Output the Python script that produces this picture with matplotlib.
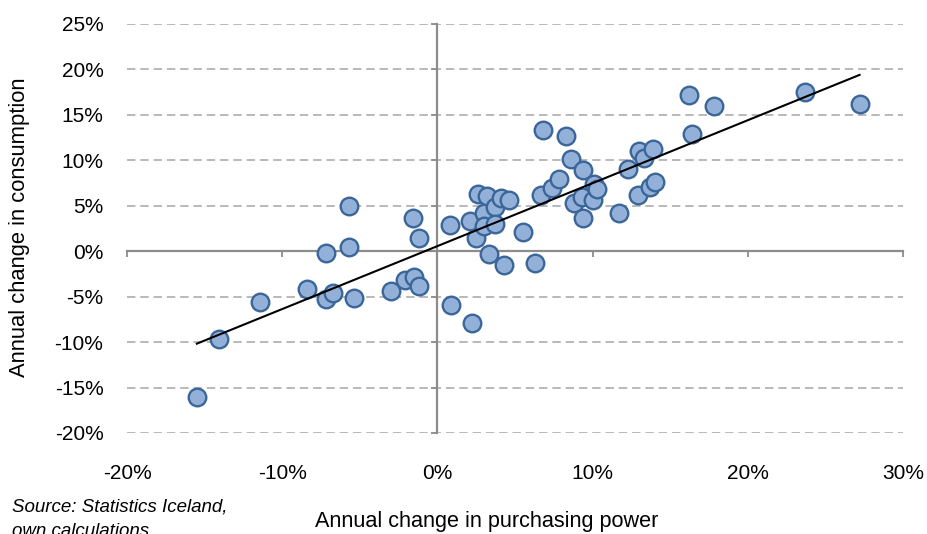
import numpy as np
import matplotlib
matplotlib.use("Agg")
import matplotlib.pyplot as plt
from matplotlib.ticker import PercentFormatter

# Annual change in purchasing power (%)
purchasing_power = [-15.5, -14.1, -11.4, -8.4, -7.2, -7.2, -6.7, -5.7, -5.7, -5.4,
                    -3.0, -2.1, -1.5, -1.6, -1.2, -1.2, 0.8, 0.9, 2.2, 2.1,
                    2.5, 2.6, 3.0, 3.0, 3.3, 3.2, 3.7, 3.7, 4.1, 4.6,
                    4.3, 5.5, 6.3, 6.65, 6.8, 7.4, 7.85, 8.3, 8.6, 8.8,
                    9.4, 9.4, 9.3, 10.0, 10.1, 10.3, 11.7, 12.3, 12.9, 13.0,
                    13.3, 13.9, 13.7, 14.0, 16.2, 16.4, 17.8, 23.7, 27.2]
# Annual change in consumption (%)
consumption = [-16.0, -9.7, -5.6, -4.2, -0.2, -5.3, -4.6, 5.0, 0.5, -5.1,
               -4.4, -3.2, -2.8, 3.7, 1.5, -3.8, 2.9, -5.9, -7.9, 3.3,
               1.4, 6.3, 4.2, 2.75, -0.3, 6.1, 4.9, 3.0, 5.9, 5.6,
               -1.5, 2.1, -1.3, 6.2, 13.3, 7.0, 7.9, 12.7, 10.2, 5.3,
               8.9, 3.7, 6.0, 5.6, 7.4, 6.9, 4.2, 9.0, 6.2, 11.0,
               10.3, 11.3, 7.1, 7.6, 17.2, 12.9, 16.0, 17.5, 16.2]

x_ticks = [-20, -10, 0, 10, 20, 30]
y_ticks = [-20, -15, -10, -5, 0, 5, 10, 15, 20, 25]

x_label = "Annual change in purchasing power"
y_label = "Annual change in consumption"
source_lines = ["Source: Statistics Iceland,", "own calculations"]

plt.rcParams['font.family'] = ['Liberation Sans', 'DejaVu Sans']
plt.rcParams['axes.unicode_minus'] = False

W, H = 927, 534
fig = plt.figure(figsize=(W / 100, H / 100), dpi=100)
ax = fig.add_axes([127 / W, 1 - 433 / H, (903 - 127) / W, (433 - 24) / H])

xmin, xmax = x_ticks[0], x_ticks[-1]
ymin, ymax = y_ticks[0], y_ticks[-1]
ax.set_xlim(xmin, xmax)
ax.set_ylim(ymin, ymax)
ax.set_xticks(x_ticks)
ax.set_yticks(y_ticks)
ax.xaxis.set_major_formatter(PercentFormatter(decimals=0))
ax.yaxis.set_major_formatter(PercentFormatter(decimals=0))
for s in ax.spines.values():
    s.set_visible(False)
ax.tick_params(length=0, labelsize=15, labelcolor='black')
ax.tick_params(axis='y', pad=17)
ax.tick_params(axis='x', pad=22)
ax.grid(axis='y', color='#A6A6A6', linestyle=(0, (5.5, 3.2)), linewidth=1.1)
ax.grid(axis='x', visible=False)

axis_color = '#8C8C8C'
# vertical axis through x = 0
sec_y = ax.secondary_yaxis((0 - xmin) / (xmax - xmin))
sec_y.set_yticks(y_ticks)
sec_y.tick_params(labelleft=False, direction='out', length=4.5, width=1.3, color=axis_color)
sec_y.spines['left'].set_color(axis_color)
sec_y.spines['left'].set_linewidth(1.6)
sec_y.set_zorder(2)
# horizontal axis through y = 0
sec_x = ax.secondary_xaxis((0 - ymin) / (ymax - ymin))
sec_x.set_xticks(x_ticks)
sec_x.tick_params(labelbottom=False, direction='out', length=4.5, width=1.3, color=axis_color)
sec_x.spines['bottom'].set_color(axis_color)
sec_x.spines['bottom'].set_linewidth(1.6)
sec_x.set_zorder(2)

ax.scatter(purchasing_power, consumption, s=160, facecolor='#93B1D8',
           edgecolor='#3B6699', linewidth=1.7, zorder=3)

# linear trendline across the data range
xs = np.array(purchasing_power)
slope, intercept = np.polyfit(xs, np.array(consumption), 1)
xl = np.array([xs.min(), xs.max()])
ax.plot(xl, slope * xl + intercept, color='black', linewidth=1.5, zorder=4)

fig.text(20 / W, 1 - 227 / H, y_label, rotation=90, ha='center', va='center', fontsize=15.8)
fig.text(487 / W, 1 - 521 / H, x_label, ha='center', va='center', fontsize=15.6)
fig.text(12 / W, 1 - 507 / H, source_lines[0], ha='left', va='center', fontsize=13.5, style='italic')
fig.text(12 / W, 1 - 532 / H, source_lines[1], ha='left', va='center', fontsize=13.5, style='italic')

fig.savefig("out.png", dpi=100)
